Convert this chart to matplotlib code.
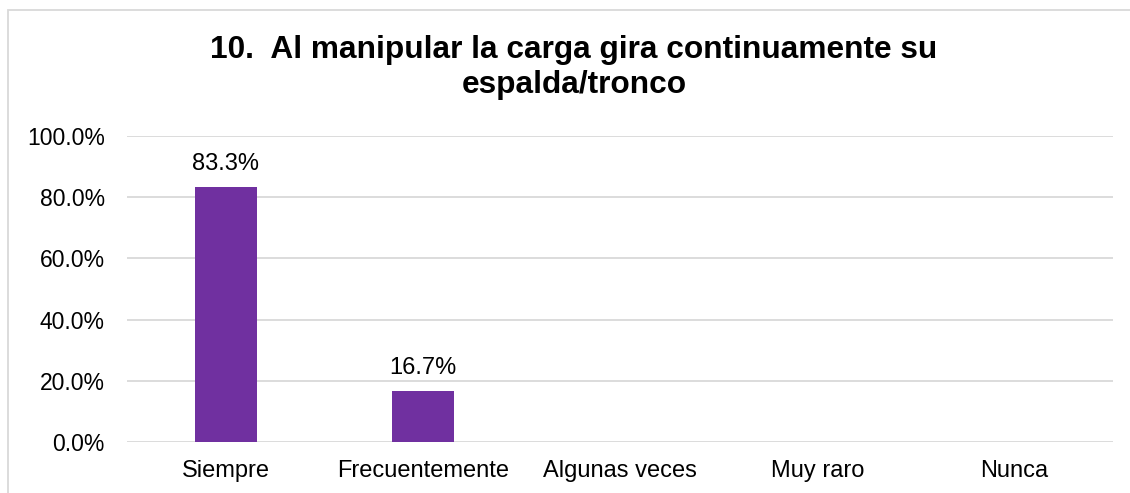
import matplotlib
matplotlib.use("Agg")
import matplotlib.pyplot as plt
from matplotlib.patches import Rectangle

# datos
categorias = ["Siempre", "Frecuentemente", "Algunas veces", "Muy raro", "Nunca"]
valores = [83.3, 16.7, 0.0, 0.0, 0.0]
ticks_y = [0, 20, 40, 60, 80, 100]
titulo_1 = "10.  Al manipular la carga gira continuamente su"
titulo_2 = "espalda/tronco"

plt.rcParams["font.family"] = ["Liberation Sans", "DejaVu Sans"]

fig = plt.figure(figsize=(11.3, 4.93), dpi=100)
ax = fig.add_axes([0.1124, 0.1034, 0.8726, 0.6207])

x = list(range(len(categorias)))
barras = ax.bar(x, valores, width=0.314, color="#7030A0", zorder=3)

# etiquetas de datos (solo las que no son cero)
for b, v in zip(barras, valores):
    if v > 0:
        ax.annotate(f"{v:.1f}%", (b.get_x() + b.get_width() / 2, v),
                    xytext=(0, 12.5), textcoords="offset points",
                    ha="center", va="baseline", fontsize=17, color="#000000")

ax.set_xlim(-0.5, len(categorias) - 0.5)
ax.set_ylim(0, 100)
ax.set_yticks(ticks_y)
ax.set_yticklabels([f"{t:.1f}%" for t in ticks_y], fontsize=16.5)
ax.set_xticks(x)
ax.set_xticklabels(categorias, fontsize=17)
ax.tick_params(axis="both", length=0, colors="#000000")
ax.tick_params(axis="y", pad=16)
ax.tick_params(axis="x", pad=13)

ax.grid(axis="y", color="#D9D9D9", linewidth=1.3, zorder=0)
for s in ax.spines.values():
    s.set_visible(False)

# titulo en dos lineas
fig.text(210 / 1130, 1 - 58 / 493, titulo_1, fontsize=22.8, fontweight="bold",
         ha="left", va="baseline")
fig.text(462 / 1130, 1 - 93 / 493, titulo_2, fontsize=22.8, fontweight="bold",
         ha="left", va="baseline")

# borde del grafico
fig.patches.append(Rectangle((8 / 1130, -0.1), 1.2, 1 - 10 / 493 + 0.1,
                             transform=fig.transFigure, fill=False,
                             edgecolor="#D9D9D9", linewidth=1.3))

fig.savefig("out.png", dpi=100)
